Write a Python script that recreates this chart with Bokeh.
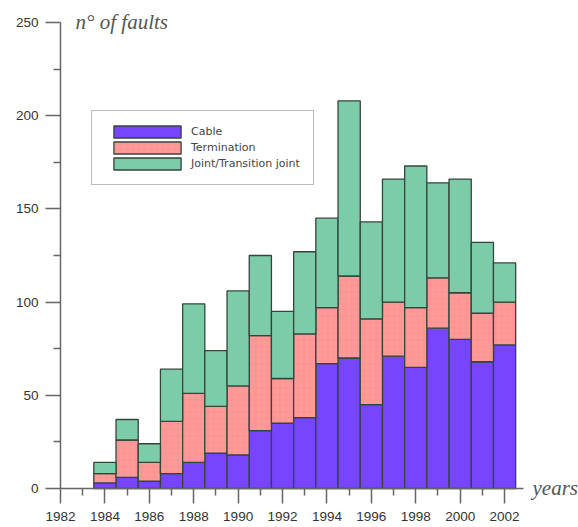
from bokeh.plotting import figure
from bokeh.models import ColumnDataSource, FixedTicker, Label, Range1d
from bokeh.transform import stack
from bokeh.embed import file_html
from bokeh.resources import INLINE

years = [1984, 1985, 1986, 1987, 1988, 1989, 1990, 1991, 1992, 1993,
         1994, 1995, 1996, 1997, 1998, 1999, 2000, 2001, 2002]
cable = [3, 6, 4, 8, 14, 19, 18, 31, 35, 38, 67, 70, 45, 71, 65, 86, 80, 68, 77]
termination = [5, 20, 10, 28, 37, 25, 37, 51, 24, 45, 30, 44, 46, 29, 32, 27, 25, 26, 23]
joint = [6, 11, 10, 28, 48, 30, 51, 43, 36, 44, 48, 94, 52, 66, 76, 51, 61, 38, 21]

x_ticks = list(range(1982, 2003, 2))
x_minor = list(range(1983, 2002, 2))
y_ticks = [0, 50, 100, 150, 200, 250]
y_minor = [25, 75, 125, 175, 225]

src = ColumnDataSource(dict(year=years, cable=cable, term=termination, joint=joint))

p = figure(width=578, height=527, output_backend="svg", toolbar_location=None,
           x_range=Range1d(1979.297, 2005.33), y_range=Range1d(-20.93, 261.8),
           frame_width=578, frame_height=527,
           min_border_left=0, min_border_right=0, min_border_top=0, min_border_bottom=0)
p.outline_line_color = None
p.xgrid.visible = False
p.ygrid.visible = False

edge = "#34453c"
p.vbar(x="year", width=1, bottom=0, top=stack("cable"), source=src,
       fill_color="#7744ff", line_color=edge, line_width=1.3, legend_label="Cable")
p.vbar(x="year", width=1, bottom=stack("cable"), top=stack("cable", "term"), source=src,
       fill_color="#ff9a98", line_color=edge, line_width=1.3,
       hatch_pattern="+", hatch_color="#e87c7c", hatch_alpha=0.35, hatch_scale=6,
       hatch_weight=0.6, legend_label="Termination")
p.vbar(x="year", width=1, bottom=stack("cable", "term"), top=stack("cable", "term", "joint"),
       source=src, fill_color="#7dcca9", line_color=edge, line_width=1.3,
       legend_label="Joint/Transition joint")

axis_col = "#666666"
for ax in (p.xaxis[0], p.yaxis[0]):
    ax.axis_line_color = axis_col
    ax.axis_line_width = 1.5
    ax.major_tick_line_color = axis_col
    ax.major_tick_line_width = 1.5
    ax.minor_tick_line_color = axis_col
    ax.minor_tick_line_width = 1.5
    ax.major_tick_in = 0
    ax.minor_tick_in = 0
    ax.major_tick_out = 15
    ax.minor_tick_out = 7
    ax.major_label_text_font = "Liberation Sans"
    ax.major_label_text_font_size = "13.5px"
    ax.major_label_text_color = "#333333"

p.xaxis.ticker = FixedTicker(ticks=x_ticks, minor_ticks=x_minor)
p.yaxis.ticker = FixedTicker(ticks=y_ticks, minor_ticks=y_minor)
p.xaxis.bounds = (1982, 2002.84)
p.yaxis.bounds = (0, 250)
p.xaxis.fixed_location = 0
p.yaxis.fixed_location = 1982
p.xaxis.major_label_standoff = 9
p.yaxis.major_label_standoff = 7

p.add_layout(Label(x=1982.68, y=250, text="n° of faults", text_font="Liberation Serif",
                   text_font_style="italic", text_font_size="21px", text_color="#555555",
                   text_baseline="middle"))
p.add_layout(Label(x=2003.26, y=0, text="years", text_font="Liberation Serif",
                   text_font_style="italic", text_font_size="21px", text_color="#555555",
                   text_baseline="middle"))

leg = p.legend[0]
leg.location = (91, 342)
leg.padding = 13
leg.spacing = 1
leg.margin = 0
leg.glyph_width = 84
leg.glyph_height = 15
leg.label_height = 15
leg.label_standoff = 2
leg.label_text_font = "DejaVu Sans"
leg.label_text_font_size = "11px"
leg.label_text_color = "#444444"
leg.border_line_color = "#777777"
leg.border_line_width = 1.5
leg.background_fill_color = "white"

open("out.html", "w").write(file_html(p, INLINE))
